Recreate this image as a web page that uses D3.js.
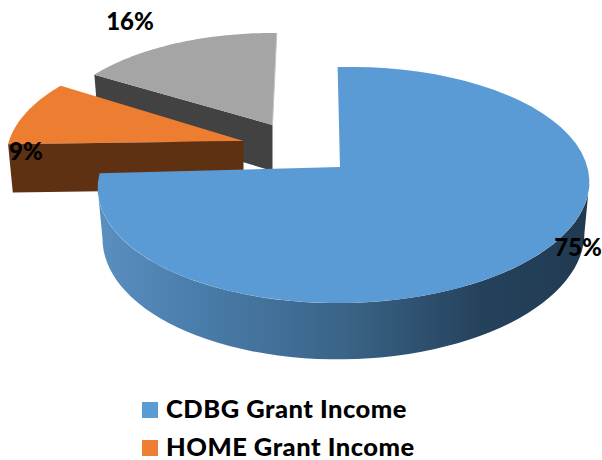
<!DOCTYPE html>
<html><head><meta charset="utf-8">
<script src="https://cdn.jsdelivr.net/npm/d3@7/dist/d3.min.js"></script>
<style>html,body{margin:0;padding:0;background:#fff}svg{display:block}text{font-family:Lato,"Open Sans",sans-serif;font-weight:900;fill:#000}</style>
</head><body><svg id="c" width="602" height="460"></svg>
<script>
const categories = ["CDBG Grant Income","HOME Grant Income","Other Grant Income"];
const shares = [75,9,16];
const shareLabels = ["75%","9%","16%"];
const legendCategories = categories.slice(0,2);
const topColors = ["#5b9bd5","#ed7d31","#a5a5a5"];
const wallColors = [null,"#5e3113","#424242"];

// layout of the tilted disc
const W=602,H=460,cx=343.5,cy=167,R=243,Ry=115.3,persp=0.1525,depth=50;
const pieces=[{dx:0,dy:0,k:1,rotA:0,rotB:0},{dx:-100,dy:-26,k:.965,rotA:0,rotB:.03},{dx:-71,dy:-42,k:.92,rotA:0,rotB:.05}];
const labelPos=[[578,256],[26,160],[130,30]];

const svg=d3.select("#c");
const defs=svg.append("defs");
const grad=defs.append("linearGradient").attr("id","wall").attr("gradientUnits","userSpaceOnUse")
 .attr("x1",98).attr("x2",589).attr("y1",0).attr("y2",0);
[[0,"#5a8fc0"],[.2,"#4a7dab"],[.5,"#3a6488"],[.78,"#25425c"],[1,"#213a52"]].forEach(s=>grad.append("stop").attr("offset",s[0]).attr("stop-color",s[1]));

const arcs=d3.pie().sort(null).startAngle(-0.028).endAngle(2*Math.PI-0.028).value(d=>d)(shares);

function proj(a,r,p,low){
  const u=Math.sin(a)*r, v=-Math.cos(a)*r, s=1/(1-persp*v);
  const k=p.k*(low?0.98:1);
  return [cx+p.dx+R*k*u*s, cy+p.dy+Ry*k*v*s+(low?depth*p.k*s:0)-(p.dx===0?(R*u*s)*0.012:0)];
}
const line=d3.line();
const sweep=(a0,a1,p,low)=>d3.range(0,61).map(i=>proj(a0+(a1-a0)*i/60,1,p,low));

// depth walls and faces drawn back to front
const order=[2,1,0];
order.forEach(i=>{
  const d=arcs[i],p=pieces[i],g=svg.append("g");
  const a0=d.startAngle+p.rotA,a1=d.endAngle+p.rotB;
  const tip=i===0?[cx-3.5,cy]:proj(0,0,p,false);
  const top=sweep(a0,a1,p,false);
  const face=line([tip,...top])+"Z";
  if(i===0){
    const b0=Math.acos(-persp), b1=2*Math.PI-b0;
    const upper=sweep(b0,b1,p,false),lower=sweep(b0,b1,p,true).reverse();
    g.append("path").attr("d",line([...upper,...lower])+"Z").attr("fill","url(#wall)");
    g.append("path").attr("d",face).attr("fill",topColors[i]);
  }else if(i===1){
    g.append("path").attr("d",face).attr("fill",topColors[i]);
    const a=top[0],low=proj(a0,1,p,true),t2=proj(0,0,p,true);
    g.append("path").attr("d",line([a,tip,t2,low])+"Z").attr("fill",wallColors[i]);
  }else{
    const e=top[0],low=proj(a0,1,p,true),t2=proj(0,0,p,true);
    g.append("path").attr("d",line([e,tip,t2,low])+"Z").attr("fill",wallColors[i]);
    g.append("path").attr("d",face).attr("fill",topColors[i]);
    g.append("path").attr("d",line([tip,top[top.length-1]])).attr("stroke","#c4c4c4").attr("stroke-width",1).attr("fill","none");
  }
});

shareLabels.forEach((t,i)=>svg.append("text").attr("x",labelPos[i][0]).attr("y",labelPos[i][1])
  .attr("text-anchor","middle").attr("font-size",24).text(t));

const ly=d3.scalePoint().domain(legendCategories).range([402,440]);
legendCategories.forEach((c,i)=>{
  svg.append("rect").attr("x",142).attr("y",ly(c)).attr("width",16).attr("height",16).attr("fill",topColors[i]);
  svg.append("text").attr("x",166).attr("y",ly(c)+16).attr("font-size",25.5).attr("letter-spacing",.5).text(c);
});
</script></body></html>
